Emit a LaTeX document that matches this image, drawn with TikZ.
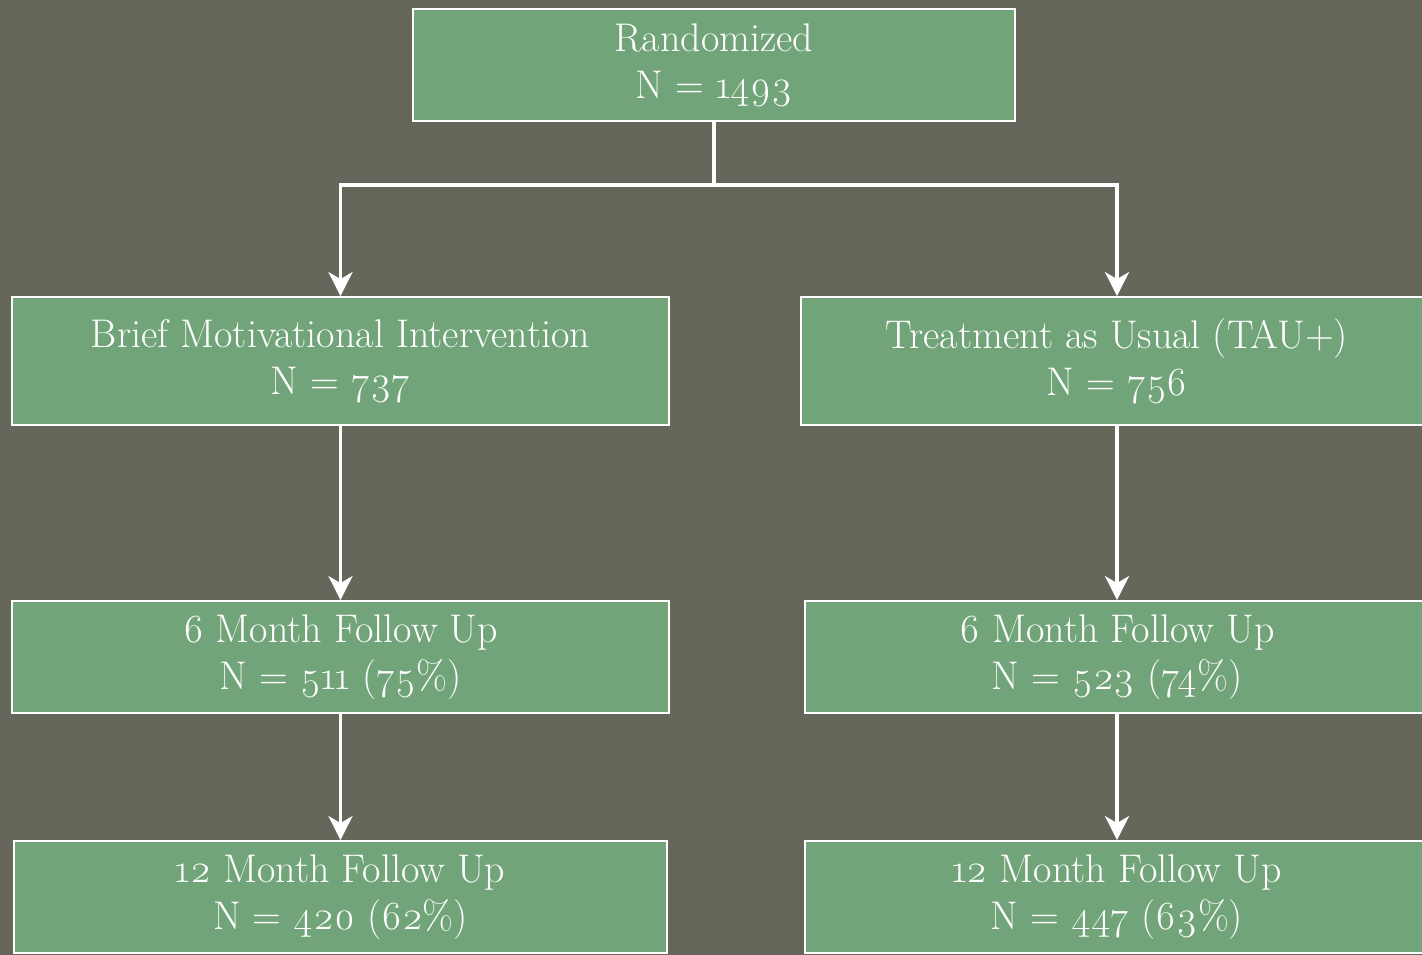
\documentclass[tikz,border=0pt]{standalone}
\usepackage{fontspec}
\setmainfont{Latin Modern Roman}[Numbers=OldStyle]
\usepackage{tikz}
\usepackage{xcolor}
\usetikzlibrary{
  positioning, arrows.meta, calc,
}
\definecolor{cSlide}   {HTML}{66675A}
\definecolor{cBox}     {HTML}{72A479}

\begin{document}
\begin{tikzpicture}[x=1pt, y=-1pt,
    box/.style={draw=white, line width=1.8pt, fill=cBox, text=white,
      align=center, inner sep=0pt, font=\fontsize{40}{47}\selectfont},
    flow/.style={draw=white, line width=3.5pt,
      -{Stealth[length=24pt, width=24pt, inset=7pt]}},
  ]
  \fill[cSlide] (0,0) rectangle (1422,955);
  \useasboundingbox (0,0) rectangle (1422,955);

  % top of the trial
  \node[box, minimum width=602pt, minimum height=112pt] (rand) at (714, 65)
        {Randomized\\N = 1493};

  % the two arms
  \node[box, minimum width=657pt, minimum height=128pt] (bmi) at (340.5, 361)
        {Brief Motivational Intervention\\N = 737};
  \node[box, minimum width=632pt, minimum height=128pt] (tau) at (1117, 361)
        {Treatment as Usual (TAU+)\\N = 756};

  % follow up
  \node[box, minimum width=657pt, minimum height=112pt] (bmi6) at (340.5, 657)
        {6 Month Follow Up\\N = 511 (75\%)};
  \node[box, minimum width=624pt, minimum height=112pt] (tau6) at (1117, 657)
        {6 Month Follow Up\\N = 523 (74\%)};
  \node[box, minimum width=653pt, minimum height=112pt] (bmi12) at (340.5, 897)
        {12 Month Follow Up\\N = 420 (62\%)};
  \node[box, minimum width=624pt, minimum height=112pt] (tau12) at (1117, 897)
        {12 Month Follow Up\\N = 447 (63\%)};

  \draw[draw=white, line width=3.5pt] (rand.south) -- ++(0,63) coordinate (split);
  \draw[flow] (split) -| (bmi.north);
  \draw[flow] (split) -| (tau.north);
  \draw[flow] (bmi.south) -- (bmi6.north);
  \draw[flow] (bmi6.south) -- (bmi12.north);
  \draw[flow] (tau.south) -- (tau6.north);
  \draw[flow] (tau6.south) -- (tau12.north);
\end{tikzpicture}
\end{document}
